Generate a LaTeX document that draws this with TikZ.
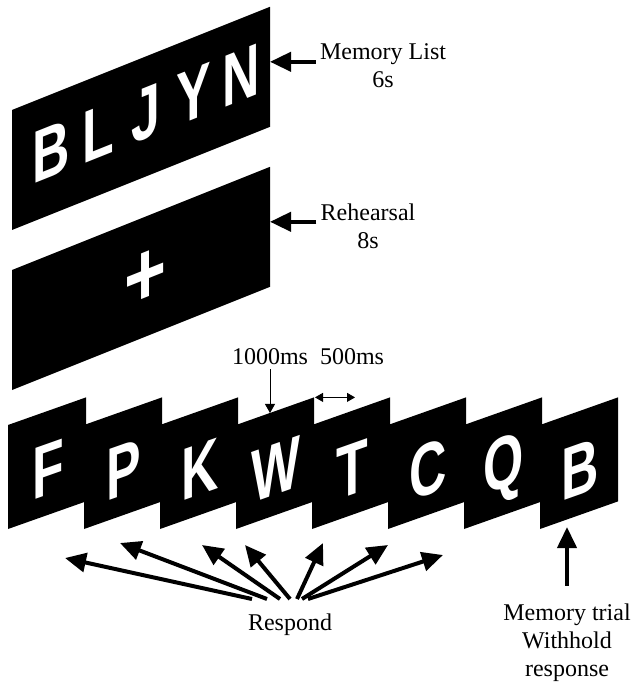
\documentclass[tikz,border=0pt]{standalone}
\usepackage{fontspec}
\setmainfont{Liberation Serif}
\setsansfont{Liberation Sans}
\usepackage{tikz}
\usetikzlibrary{positioning, arrows.meta}
\def\pointer{\draw[-{Triangle[length=21pt,width=19pt]}, line width=4pt]}

\tikzset{
  card/.style={fill=black},
  letter/.style={text=white, inner sep=0pt, transform shape, xscale=0.7,
    font=\sffamily\bfseries\fontsize{74}{74}\selectfont},
  fixcross/.style={text=white, inner sep=0pt, transform shape, xscale=0.8,
    font=\sffamily\bfseries\fontsize{90}{90}\selectfont},
  txt/.style={font=\fontsize{24}{28}\selectfont, align=center, inner sep=4pt},
  tick/.style={-{Triangle[length=9pt,width=10pt]}, line width=0.9pt},
  isi/.style={{Triangle[length=8pt,width=9pt]}-{Triangle[length=8pt,width=9pt]}, line width=0.9pt}
}

\begin{document}
\begin{tikzpicture}[x=1pt, y=-1pt]
            \useasboundingbox (0,0) rectangle (635,684);

            \begin{scope}[shift={(12,110)}, yslant=0.4]
                \fill[card] (0,0) rectangle (258,120);
                \foreach \l [count=\i] in {B,L,J,Y,N}
                    \node[letter] (list\i) at (-8.5+47.5*\i,57) {\l};
                \coordinate (listedge) at (258,55);
            \end{scope}

            \begin{scope}[shift={(12,270)}, yslant=0.4]
                \fill[card] (0,0) rectangle (258,120);
                \node[fixcross] (cross) at (134,62) {+};
                \coordinate (restedge) at (258,55);
            \end{scope}

            \foreach \l [count=\i from 0] in {F,P,K,W,T,C,Q,B} {
                \begin{scope}[shift={(8+76*\i,425)}, yslant=0.354]
                    \fill[card] (0,0) rectangle (78,104);
                    \node[letter] (item\i) at (40,59) {\l};
                    \coordinate (top\i) at (34,0);
                    \coordinate (corner\i) at (78,0);
                \end{scope}
            }

            \node[txt] (memlist) at (383,66) {Memory List\\6s};
            \node[txt] (rehearsal) at (368,226) {Rehearsal\\8s};
            \node[txt] (t1000) at (270,357) {1000ms};
            \node[txt] (t500) at (352,357) {500ms};
            \node[txt] (respond) at (290,625) {Respond};
            \node[txt] (trial) at (567,643) {Memory trial\\Withhold\\response};
            \coordinate (withhold) at (567,527);

            \pointer (memlist.west |- listedge) -- (listedge);
            \pointer (rehearsal.west |- restedge) -- (restedge);
            \draw[tick] (t1000) -- (top3);
            \draw[isi] ([xshift=1pt]corner3) -- ([xshift=41pt]corner3);

            \foreach \tx/\hx/\hy [count=\i] in {252/65/558, 267/120/543, 280/202/545,
                    290/245/545, 297/323/543, 302/388/545, 308/443/555} {
                \coordinate (tail\i) at (\tx,599);
                \coordinate (head\i) at (\hx,\hy);
                \pointer (tail\i) -- (head\i);
            }
            \pointer ([yshift=14pt]trial.north) -- (withhold);
        \end{tikzpicture}
\end{document}
